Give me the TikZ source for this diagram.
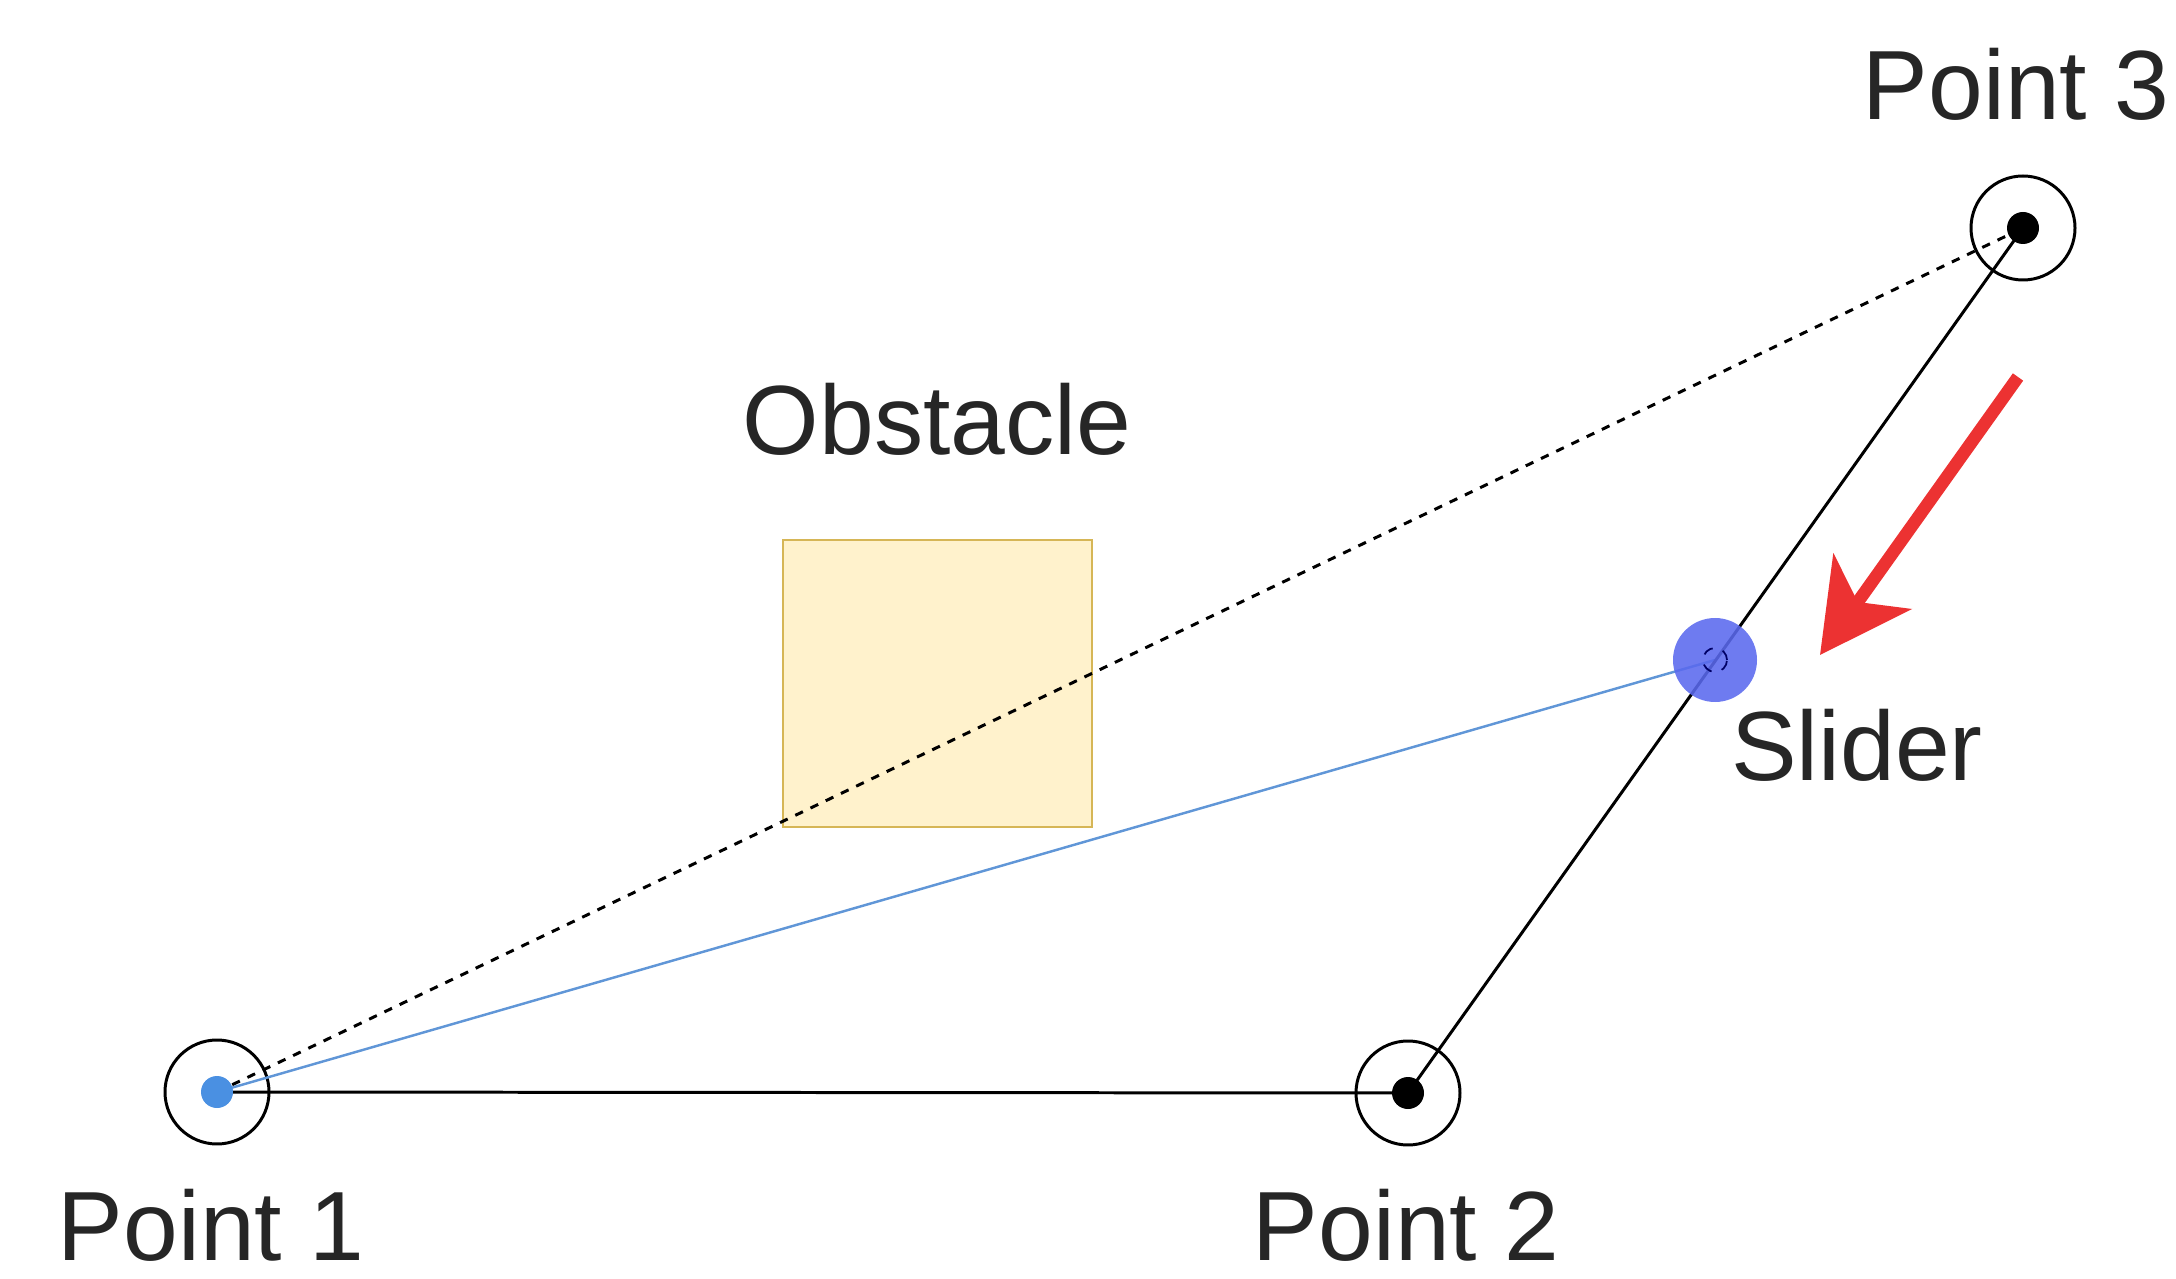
\documentclass[tikz,border=0pt]{standalone}
\usepackage{fontspec}
\setmainfont{Liberation Sans}
\usetikzlibrary{arrows.meta}
\definecolor{obstfill}{RGB}{255,242,204}
\definecolor{obstdraw}{RGB}{214,182,86}
\definecolor{linkblue}{RGB}{96,150,215}
\definecolor{dotblue}{RGB}{74,144,226}
\definecolor{sliderblue}{RGB}{90,105,238}
\definecolor{arrowred}{RGB}{236,50,50}
\tikzset{
  pivot/.style={draw, circle, line width=0.85pt, minimum size=1.04cm, inner sep=0pt},
  pin/.style={circle, fill=black, minimum size=0.32cm, inner sep=0pt},
  lbl/.style={font=\fontsize{28}{34}\selectfont, text=black!85, anchor=base, inner sep=0pt},
  link/.style={line width=0.85pt},
}
\begin{document}
\begin{tikzpicture}[x=1cm,y=1cm]
\useasboundingbox (0,0) rectangle (21.76,12.78);
\draw[fill=obstfill, draw=obstdraw, line width=0.7pt] (7.83,4.51) rectangle (10.92,7.38);
\node[lbl] (obstlbl) at (9.37,8.23) {Obstacle};
\node[pivot] (p1) at (2.17,1.86) {};
\node[pivot] (p2) at (14.08,1.85) {};
\node[pivot] (p3) at (20.23,10.50) {};
\node[lbl] (p1lbl) at (2.11,0.18) {Point 1};
\node[lbl] (p2lbl) at (14.06,0.18) {Point 2};
\node[lbl] (p3lbl) at (20.16,11.58) {Point 3};
% rope lines
\draw[link, dash pattern=on 2.4pt off 2.4pt] (p1.center) -- (p3.center);
\draw[linkblue, line width=0.7pt] (p1.center) -- (17.15,6.18) coordinate (s);
\draw[link] (p1.center) -- (p2.center) -- (p3.center);
\node[pin, fill=dotblue] (d1) at (p1) {};
\node[pin] (d2) at (p2) {};
\node[pin] (d3) at (p3) {};
% slider
\node[circle, fill=sliderblue, fill opacity=0.88, minimum size=0.84cm, inner sep=0pt] (slider) at (s) {};
\node[circle, draw=blue!40!black, dashed, line width=0.5pt, minimum size=0.24cm, inner sep=0pt] (sdot) at (s) {};
\node[lbl] (sliderlbl) at (18.57,4.98) {Slider};
\coordinate (atail) at (20.18,9.01);
\coordinate (atip) at (18.20,6.23);
\draw[arrowred, line width=3.6pt, -{Stealth[length=0.9cm, width=0.95cm, inset=0.25cm]}] (atail) -- (atip);
\end{tikzpicture}
\end{document}
